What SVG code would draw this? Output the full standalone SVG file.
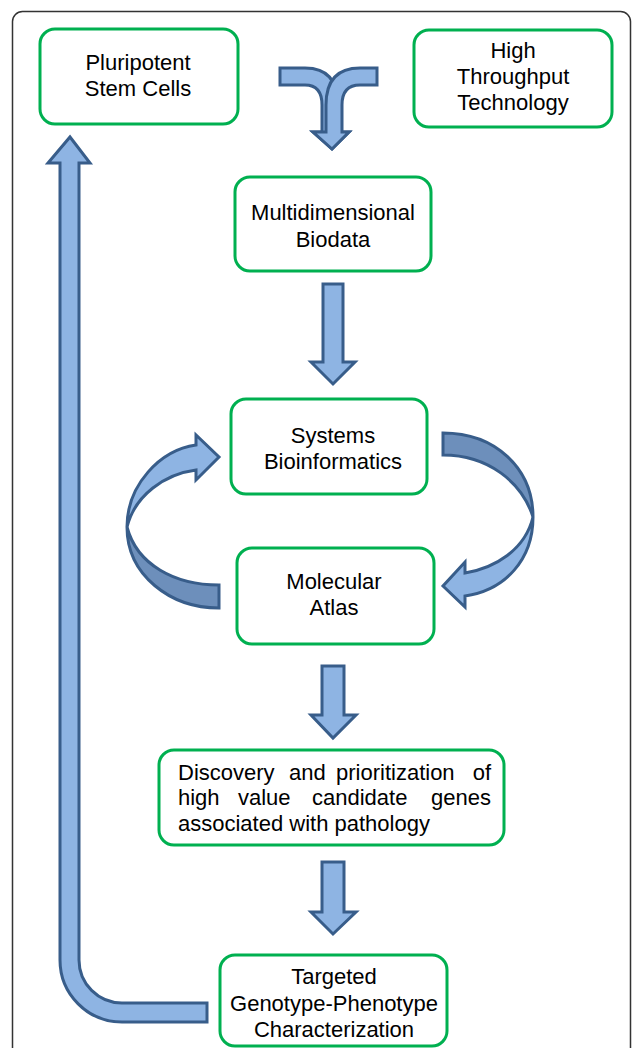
<svg xmlns="http://www.w3.org/2000/svg" width="633" height="1048" viewBox="0 0 633 1048">
<style>
.box{fill:#fff;stroke:#00b050;stroke-width:3}
.t{font-family:"Liberation Sans",Arial,sans-serif;font-size:22px;fill:#000;text-anchor:middle}
.tl{font-family:"Liberation Sans",Arial,sans-serif;font-size:22px;fill:#000}
.ar{fill:#8eb4e3;stroke:#385d8a;stroke-width:3;stroke-linejoin:miter}
.ard{fill:#6d8fbb;stroke:#385d8a;stroke-width:3;stroke-linejoin:miter}
</style>
<rect x="12.5" y="11.5" width="618" height="1080" rx="10" fill="#fff" stroke="#333" stroke-width="1.5"/>
<g id="connectors">
<path class="ar" d="M280,68 L305,68 Q338,68 338,105 L338,132 L349,132 L332,149 L313,132 L322,132 L322,105 Q322,85 305,85 L280,85 Z"/>
<path class="ar" d="M377,68 L360,68 Q326,68 326,105 L326,132 L313,132 L332,149 L349,132 L342,132 L342,105 Q342,85 360,85 L377,85 Z"/>
<path class="ar" d="M323,284 L343,284 L343,362 L355,362 L333,384 L311,362 L323,362 Z"/>
<path class="ar" d="M322,666 L344,666 L344,715 L356,715 L333,738 L311,715 L322,715 Z"/>
<path class="ar" d="M322,862 L344,862 L344,912 L356,912 L333,934 L311,912 L322,912 Z"/>
<path class="ar" d="M207,1003 L122,1003 A43,43 0 0 1 79,960 L79,163 L90,163 L70,137 L48,163 L60,163 L60,960 A62,62 0 0 0 122,1022 L207,1022 Z"/>
<path class="ard" d="M127,527 C127,575 170,608 219,608 L219,585 C175,585 137,565 127,527 Z"/>
<path class="ar" d="M127,527 C127,485 160,450 196,445 L196,435 L219,457 L196,480 L196,470 C165,474 135,495 127,527 Z"/>
<path class="ard" d="M443,433 C495,433 533,468 533,517 C522,482 488,455 443,455 Z"/>
<path class="ar" d="M533,517 C533,560 505,590 465,596 L465,607 L443,586 L465,562 L465,573 C495,568 525,550 533,517 Z"/>
</g>
<g id="pluripotent">
<rect class="box" x="40" y="29" width="198" height="95" rx="15"/>
<text class="t" x="138" y="70">Pluripotent</text>
<text class="t" x="138" y="96">Stem Cells</text>
</g>
<g id="highthroughput">
<rect class="box" x="414" y="30" width="198" height="97" rx="15"/>
<text class="t" x="513" y="58">High</text>
<text class="t" x="513" y="84">Throughput</text>
<text class="t" x="513" y="110">Technology</text>
</g>
<g id="biodata">
<rect class="box" x="235" y="177" width="196" height="94" rx="15"/>
<text class="t" x="333" y="220">Multidimensional</text>
<text class="t" x="333" y="247">Biodata</text>
</g>
<g id="systems">
<rect class="box" x="231" y="399" width="196" height="95" rx="15"/>
<text class="t" x="333" y="443">Systems</text>
<text class="t" x="333" y="469">Bioinformatics</text>
</g>
<g id="atlas">
<rect class="box" x="237" y="548" width="197" height="96" rx="15"/>
<text class="t" x="334" y="589">Molecular</text>
<text class="t" x="334" y="615">Atlas</text>
</g>
<g id="discovery">
<rect class="box" x="159" y="750" width="345" height="95" rx="15"/>
<text class="tl" x="178" y="780">Discovery</text>
<text class="tl" x="289" y="780">and</text>
<text class="tl" x="336" y="780">prioritization</text>
<text class="tl" x="491" y="780" text-anchor="end">of</text>
<text class="tl" x="178" y="805">high</text>
<text class="tl" x="238" y="805">value</text>
<text class="tl" x="312" y="805">candidate</text>
<text class="tl" x="491" y="805" text-anchor="end">genes</text>
<text class="tl" x="178" y="831">associated with pathology</text>
</g>
<g id="targeted">
<rect class="box" x="220" y="955" width="227" height="91" rx="15"/>
<text class="t" x="334" y="984">Targeted</text>
<text class="t" x="334" y="1011">Genotype-Phenotype</text>
<text class="t" x="334" y="1037">Characterization</text>
</g>
</svg>
